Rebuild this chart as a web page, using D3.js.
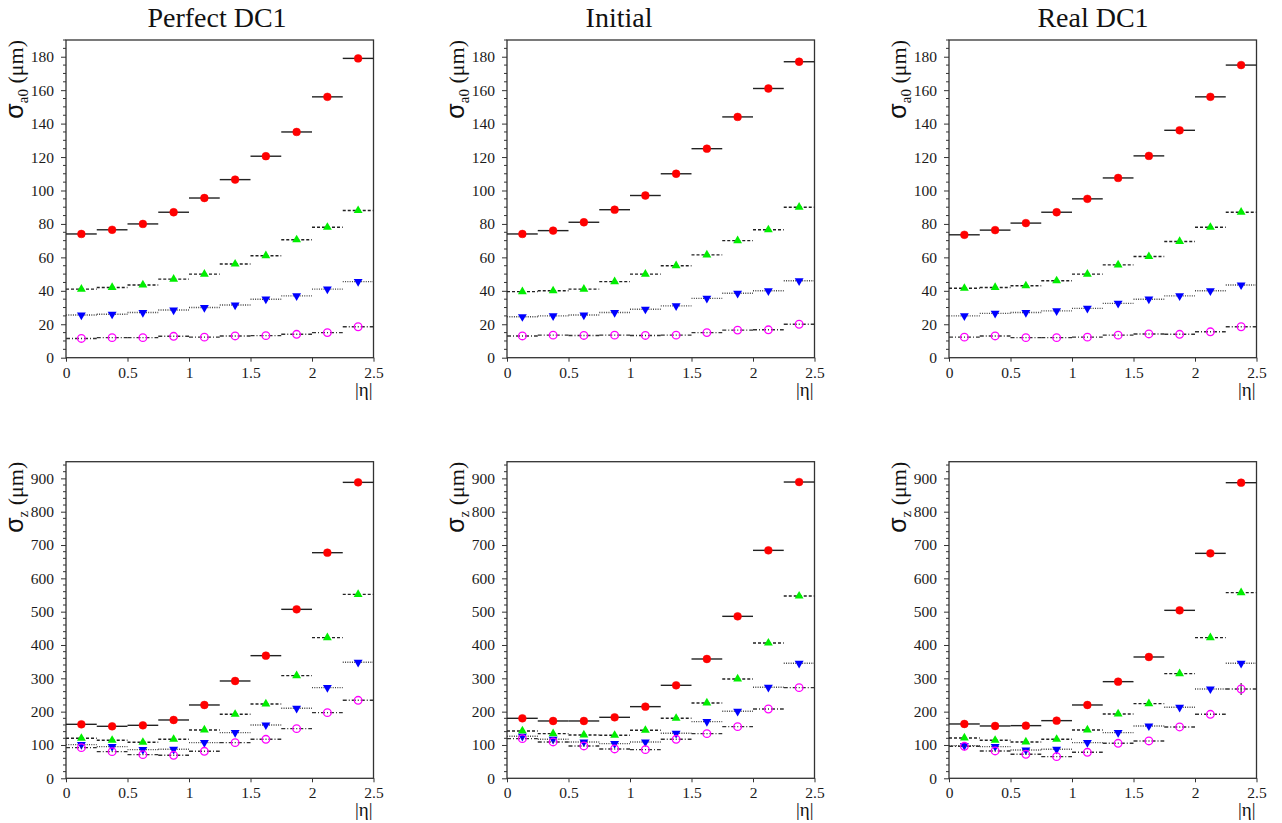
<!DOCTYPE html>
<html>
<head>
<meta charset="utf-8">
<script src="https://cdn.jsdelivr.net/npm/d3@7"></script>
<style>
  body { margin: 0; background: #fff; }
  svg { display: block; }
</style>
</head>
<body>
<svg id="chart" width="1282" height="823" font-family="'Liberation Serif', 'Times New Roman', serif"></svg>
<script>
// |eta| bin edges (10 bins of 0.25)
const etaEdges = [0, 0.25, 0.5, 0.75, 1, 1.25, 1.5, 1.75, 2, 2.25, 2.5];
const xTicks = [0, 0.5, 1, 1.5, 2, 2.5];
const titles = ['Perfect DC1', 'Initial', 'Real DC1'];

// sigma(a0) in um : [red, green, blue, magenta]
const a0Perfect = [
  [74, 76.5, 80, 87, 95.5, 106.5, 120.5, 135, 156, 179],
  [41, 42, 43.5, 47, 50, 56, 61, 70.5, 78, 88],
  [25.5, 26, 27, 28.5, 30, 31.5, 35, 37, 41, 45.5],
  [11.5, 12, 12, 12.8, 12.3, 13, 13.2, 14, 15, 18.5]
];
const a0Initial = [
  [74, 76, 81, 88.5, 97, 110, 125, 144, 161, 177],
  [39.5, 40, 41, 45.5, 50, 55, 61.5, 70, 76.5, 90],
  [24.5, 25, 25.5, 27, 29, 31, 35.5, 38.5, 40, 46],
  [13, 13.5, 13.3, 13.5, 13.3, 13.5, 15, 16.5, 16.7, 20]
];
const a0Real = [
  [73.5, 76.3, 80.5, 87, 95, 107.5, 120.7, 136, 156, 175],
  [41.5, 42, 43, 46, 50, 55.5, 60.5, 69.5, 78, 87],
  [25, 26.5, 27, 28, 29.5, 32.5, 35, 37, 40, 43.5],
  [12.3, 13, 12, 12, 12.3, 13.5, 14.2, 14, 15.5, 18.5]
];

// sigma(z) in um : [red, green, blue, magenta]
const zPerfect = [
  [162, 156, 159, 175, 220, 292, 368, 507, 677, 888],
  [120, 114, 108, 117, 145, 192, 223, 308, 422, 552],
  [101, 95, 86, 87, 107, 137, 160, 210, 272, 348],
  [92, 80, 71, 69, 81, 107, 117, 149, 197, 234]
];
const zInitial = [
  [180, 172, 172, 183, 215, 279, 358, 486, 684, 889],
  [142, 134, 130, 129, 144, 180, 226, 298, 406, 547],
  [126, 117, 109, 104, 109, 135, 170, 201, 273, 345],
  [119, 109, 97, 88, 86, 117, 134, 155, 208, 272]
];
const zReal = [
  [163, 157, 158, 173, 220, 290, 364, 504, 675, 887],
  [121, 114, 109, 117, 145, 193, 224, 314, 422, 557],
  [98, 95, 85, 87, 107, 137, 157, 213, 268, 345],
  [96, 82, 72, 65, 78, 105, 112, 154, 192, 268]
];
const zRealMagentaErr = [0, 0, 0, 0, 0, 0, 0, 0, 0, 18];

const seriesStyle = [
  {color: '#ff0000', shape: 'dot', dash: null, line: '#222'},
  {color: '#00ee00', shape: 'up', dash: '3,2', line: '#222'},
  {color: '#0000ff', shape: 'down', dash: '1,1.3', line: '#444'},
  {color: '#ff00ff', shape: 'ring', dash: '4,2,1,2', line: '#333'}
];

const serif = "'Liberation Serif', 'Times New Roman', serif";
const svg = d3.select('#chart');
const colLeft = [66, 507, 949];
const plotW = 307.5;
const rows = [
  {top: 40, bottom: 357.7, max: 190, major: 20, minor: 5, label: 'a0',
   data: [a0Perfect, a0Initial, a0Real], errs: [null, null, null]},
  {top: 461.7, bottom: 778.3, max: 950, major: 100, minor: 20, label: 'z',
   data: [zPerfect, zInitial, zReal], errs: [null, null, [null, null, null, zRealMagentaErr]]}
];

titles.forEach((t, i) => {
  const cx = [217, 619, 1093][i];
  svg.append('text').attr('x', cx).attr('y', 27)
    .attr('text-anchor', 'middle').style('font-family', serif)
    .attr('font-size', 28).attr('fill', '#111').text(t);
});

rows.forEach(row => {
  row.data.forEach((panel, pi) => {
    const x0 = colLeft[pi];
    const x = d3.scaleLinear().domain([0, 2.5]).range([x0, x0 + plotW]);
    const y = d3.scaleLinear().domain([0, row.max]).range([row.bottom, row.top]);
    const g = svg.append('g');

    // minor y ticks
    const minorT = d3.range(0, row.max + 0.001, row.minor).filter(v => v % row.major !== 0);
    g.selectAll('.minor').data(minorT).enter().append('line')
      .attr('x1', x0 - 3).attr('x2', x0)
      .attr('y1', d => y(d)).attr('y2', d => y(d))
      .attr('stroke', '#333').attr('stroke-width', 1);

    const yAxis = d3.axisLeft(y).tickValues(d3.range(0, row.max + 1, row.major))
      .tickSize(5).tickPadding(7).tickFormat(d3.format('d'));
    const ya = g.append('g').attr('transform', `translate(${x0},0)`).call(yAxis);
    const xAxis = d3.axisBottom(x).tickValues(xTicks).tickSize(4).tickPadding(5)
      .tickFormat(d => d3.format('')(d));
    const xa = g.append('g').attr('transform', `translate(0,${row.bottom})`).call(xAxis);
    [ya, xa].forEach(a => {
      a.attr('font-family', null).attr('font-size', 15.5);
      a.select('.domain').remove();
      a.selectAll('line').attr('stroke', '#333').attr('stroke-width', 1);
      a.selectAll('text').attr('fill', '#1a1a1a').style('font-family', serif);
    });

    // frame
    g.append('rect').attr('x', x0).attr('y', row.top)
      .attr('width', plotW).attr('height', row.bottom - row.top)
      .attr('fill', 'none').attr('stroke', '#333').attr('stroke-width', 1.3);

    // y label
    const yl = g.append('text')
      .attr('transform', `translate(${x0 - 43},${row.top}) rotate(-90)`)
      .attr('text-anchor', 'end').style('font-family', serif).attr('fill', '#111');
    yl.append('tspan').style('font-family', "'Liberation Sans', Arial, sans-serif")
      .attr('font-size', 25).text('σ');
    yl.append('tspan').attr('dy', 5).attr('font-size', 15).text(row.label);
    yl.append('tspan').attr('dy', -5).attr('font-size', 22).text(' (μm)');

    // x label
    g.append('text').attr('x', x0 + plotW - 1).attr('y', row.bottom + 38)
      .attr('text-anchor', 'end').style('font-family', serif)
      .attr('font-size', 19).attr('fill', '#111').text('|η|');

    // series
    panel.forEach((vals, si) => {
      const st = seriesStyle[si];
      const pts = vals.map((v, k) => ({lo: etaEdges[k], hi: etaEdges[k + 1], v,
        e: row.errs[pi] && row.errs[pi][si] ? row.errs[pi][si][k] : 0}));
      g.selectAll(null).data(pts).enter().append('line')
        .attr('x1', d => x(d.lo)).attr('x2', d => x(d.hi))
        .attr('y1', d => y(d.v)).attr('y2', d => y(d.v))
        .attr('stroke', st.line).attr('stroke-width', 1.4)
        .attr('stroke-dasharray', st.dash);
      g.selectAll(null).data(pts.filter(d => d.e > 0)).enter().append('line')
        .attr('x1', d => x((d.lo + d.hi) / 2)).attr('x2', d => x((d.lo + d.hi) / 2))
        .attr('y1', d => y(d.v - d.e)).attr('y2', d => y(d.v + d.e))
        .attr('stroke', '#333').attr('stroke-width', 1.2);

      const cx = d => x((d.lo + d.hi) / 2);
      if (st.shape === 'dot' || st.shape === 'ring') {
        g.selectAll(null).data(pts).enter().append('circle')
          .attr('cx', cx).attr('cy', d => y(d.v))
          .attr('r', st.shape === 'dot' ? 3.9 : 3.8)
          .attr('fill', st.shape === 'dot' ? st.color : 'none')
          .attr('stroke', st.color).attr('stroke-width', st.shape === 'dot' ? 0.5 : 1.3);
      } else {
        const sym = d3.symbol().type(d3.symbolTriangle).size(34);
        g.selectAll(null).data(pts).enter().append('path')
          .attr('d', sym)
          .attr('transform', d => `translate(${cx(d)},${y(d.v)})` + (st.shape === 'down' ? ' rotate(180)' : ''))
          .attr('fill', st.color);
      }
    });
  });
});
</script>
</body>
</html>
